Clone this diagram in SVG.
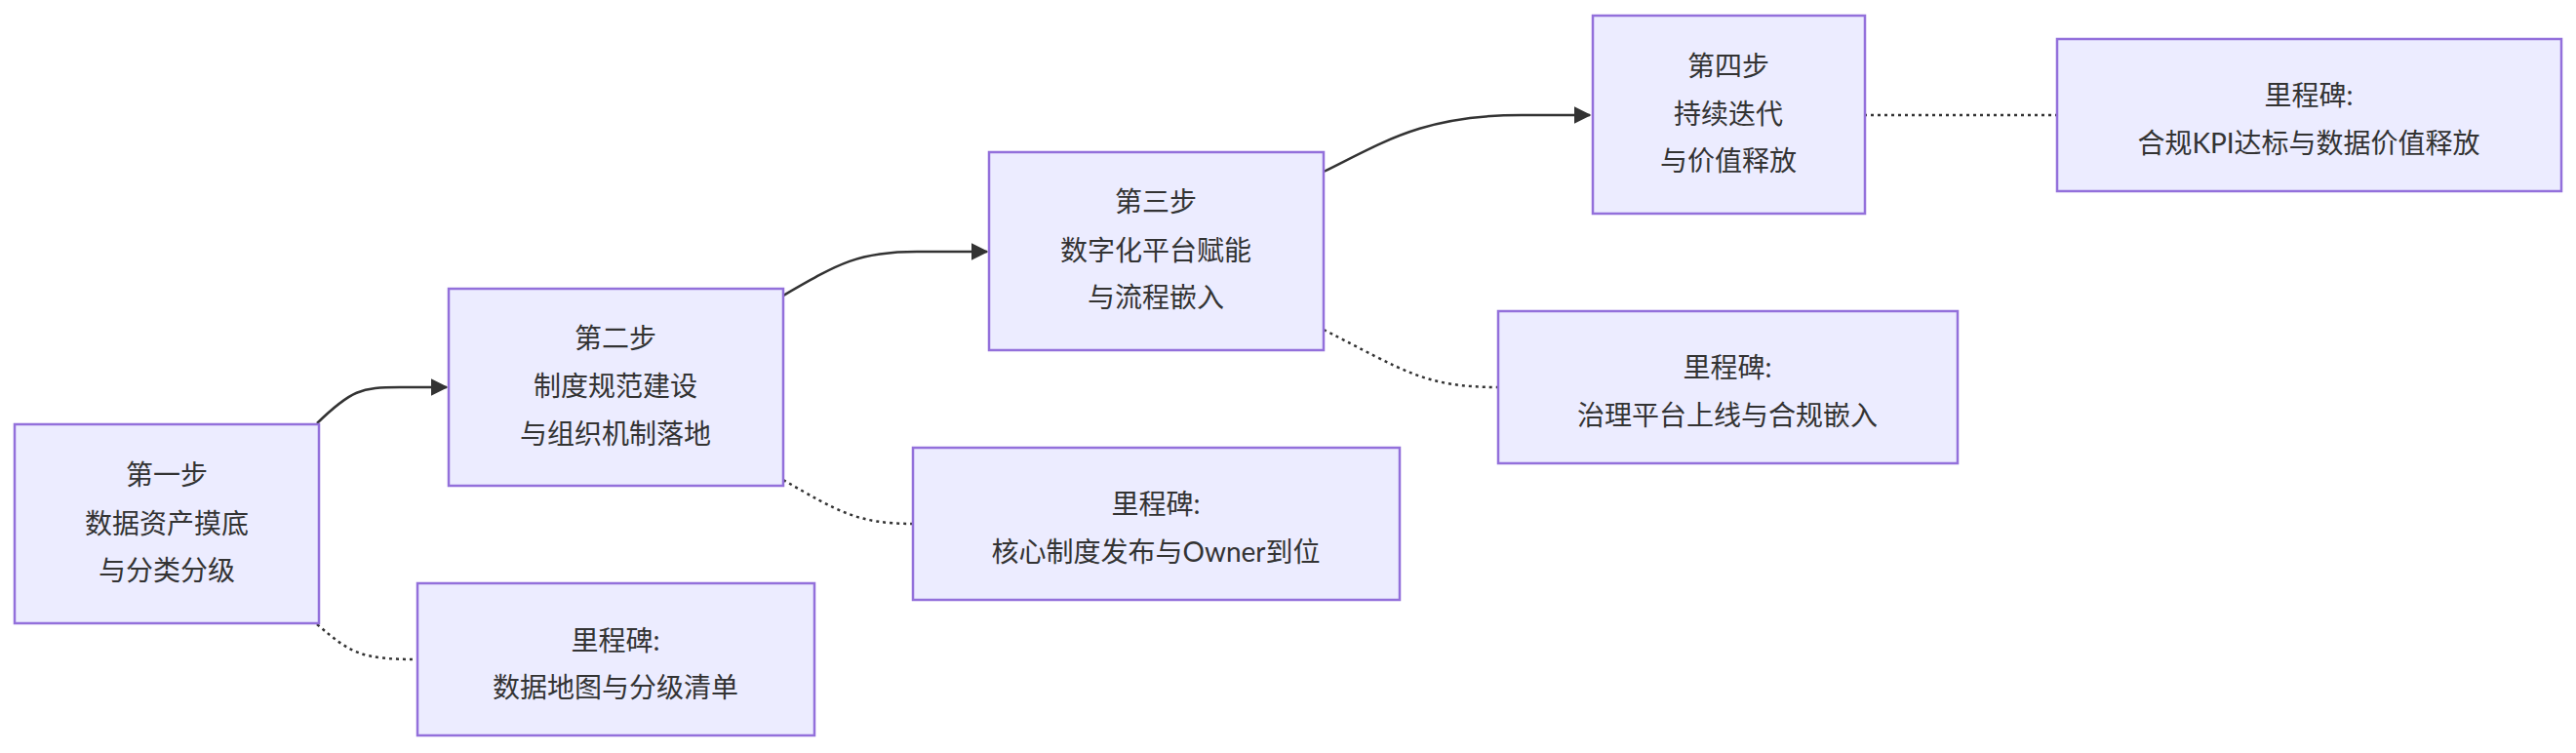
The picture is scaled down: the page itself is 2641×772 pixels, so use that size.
<svg xmlns="http://www.w3.org/2000/svg" width="2641" height="772" viewBox="0 0 2641 772">
<style>
.n rect{fill:#ECECFF;stroke:#9370DB;stroke-width:2.5}
.n text{font-family:Lato,"Noto Sans CJK SC",sans-serif;font-size:28px;fill:#333;text-anchor:middle}
.e{fill:none;stroke:#333;stroke-width:2.5}
.d{fill:none;stroke:#333;stroke-width:2.5;stroke-dasharray:3 4}
</style>
<defs><marker id="a" viewBox="0 0 10 10" refX="9" refY="5" markerWidth="7" markerHeight="7" orient="auto" markerUnits="userSpaceOnUse"><path d="M0,0L10,5L0,10z" fill="#333"/></marker></defs>
<defs><marker id="ah" viewBox="0 0 12 12" refX="11" refY="6" markerWidth="18" markerHeight="18" orient="auto" markerUnits="userSpaceOnUse"><path d="M0,0L12,6L0,12z" fill="#333"/></marker></defs>
<g id="edges">
<path class="e" d="M325,434 C360,400 370,397 410,397 L458,397" marker-end="url(#ah)"/>
<path class="e" d="M803,303 C860,270 880,258 940,258 L1012,258" marker-end="url(#ah)"/>
<path class="e" d="M1357,176 C1420,145 1460,118 1560,118 L1630,118" marker-end="url(#ah)"/>
<path class="d" d="M325,640 C360,670 370,676 428,676"/>
<path class="d" d="M803,492 C860,525 880,537 936,537"/>
<path class="d" d="M1357,338 C1440,380 1460,397 1536,397"/>
<path class="d" d="M1911,118 L2108,118"/>
</g>
<g id="n1" class="n"><rect x="15" y="435" width="312" height="204"/><text x="171" y="497">第一步</text><text x="171" y="547">数据资产摸底</text><text x="171" y="595">与分类分级</text></g>
<g id="n2" class="n"><rect x="460" y="296" width="343" height="202"/><text x="631" y="357">第二步</text><text x="631" y="406">制度规范建设</text><text x="631" y="455">与组织机制落地</text></g>
<g id="n3" class="n"><rect x="1014" y="156" width="343" height="203"/><text x="1185" y="217">第三步</text><text x="1185" y="267">数字化平台赋能</text><text x="1185" y="315">与流程嵌入</text></g>
<g id="n4" class="n"><rect x="1633" y="16" width="279" height="203"/><text x="1772" y="78">第四步</text><text x="1772" y="127">持续迭代</text><text x="1772" y="175">与价值释放</text></g>
<g id="m1" class="n"><rect x="428" y="598" width="407" height="156"/><text x="631" y="667">里程碑:</text><text x="631" y="715">数据地图与分级清单</text></g>
<g id="m2" class="n"><rect x="936" y="459" width="499" height="156"/><text x="1185" y="527">里程碑:</text><text x="1185" y="576">核心制度发布与Owner到位</text></g>
<g id="m3" class="n"><rect x="1536" y="319" width="471" height="156"/><text x="1771" y="387">里程碑:</text><text x="1771" y="436">治理平台上线与合规嵌入</text></g>
<g id="m4" class="n"><rect x="2109" y="40" width="517" height="156"/><text x="2367" y="108">里程碑:</text><text x="2367" y="157">合规KPI达标与数据价值释放</text></g>
</svg>
